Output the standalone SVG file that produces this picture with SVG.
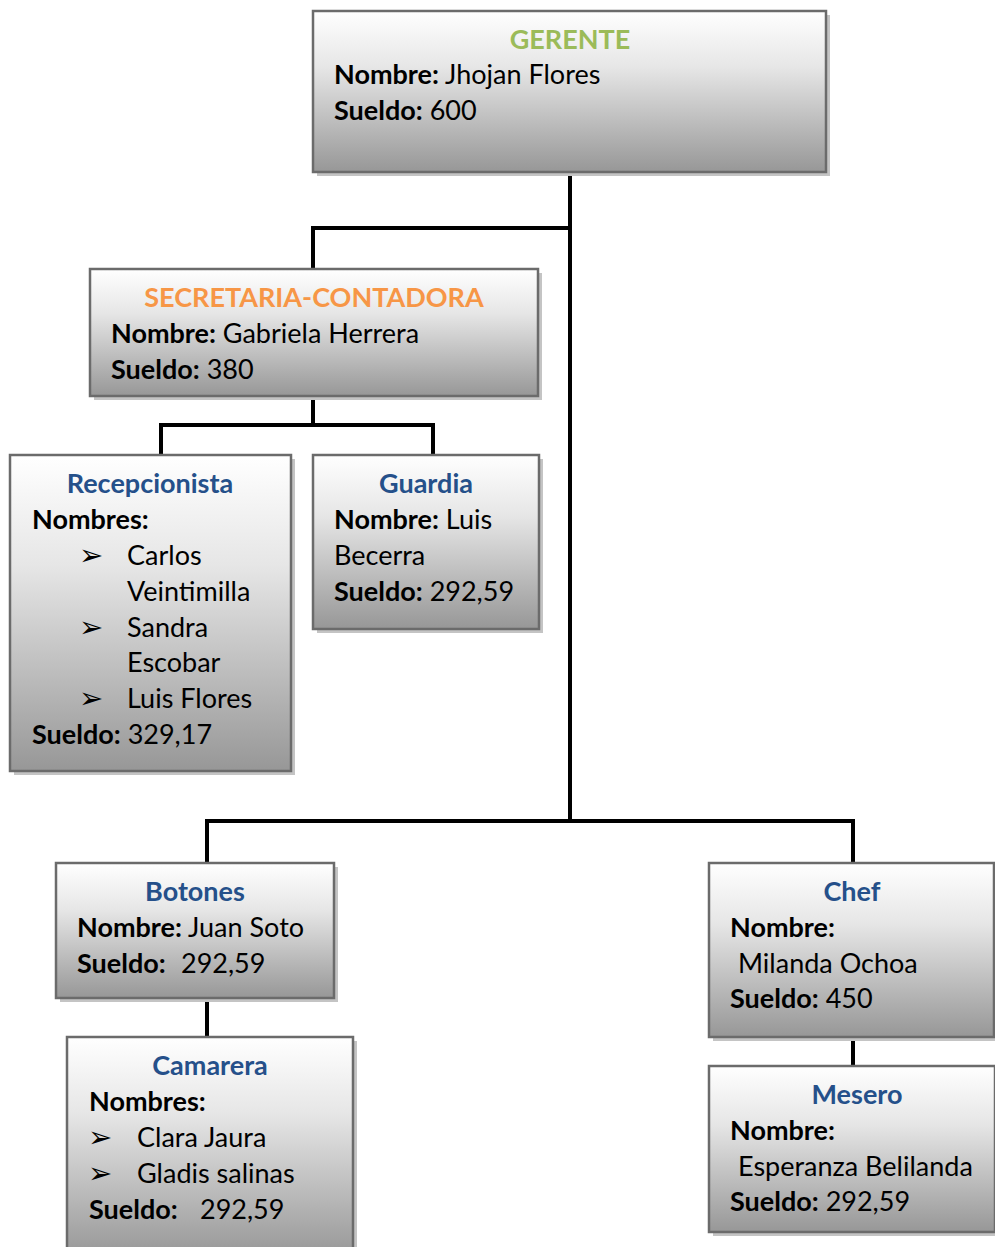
<svg xmlns="http://www.w3.org/2000/svg" width="995" height="1247" viewBox="0 0 995 1247">
<defs>
<linearGradient id="g" x1="0" y1="0" x2="0" y2="1">
<stop offset="0" stop-color="#ffffff"/>
<stop offset="0.35" stop-color="#e6e6e6"/>
<stop offset="1" stop-color="#979797"/>
</linearGradient>
<style>
.sh{fill:#c4c4c4;stroke:none}
.bx{fill:url(#g);stroke:#6b6b6b;stroke-width:2.5}
.c{stroke:#000;stroke-width:4;fill:none}
text{font-family:Lato,"Open Sans",sans-serif;font-size:27px;fill:#000}
.b{font-weight:bold}
.t{font-weight:bold;text-anchor:middle;fill:#25508a}
.bul{font-family:"DejaVu Sans",sans-serif;font-size:29px}
</style>
</defs>
<rect width="995" height="1247" fill="#fff"/>
<g id="connectors">
<path class="c" d="M570,172V820M313,228H570M313,226V269M313,396V425M161,425H433M161,423V455M433,423V455M207,821H853M207,819V863M853,819V863M207,998V1037M853,1037V1066"/>
</g>
<g id="gerente">
<rect class="sh" x="317" y="15" width="513" height="161"/>
<rect class="bx" x="313" y="11" width="513" height="161"/>
<text class="t" x="570" y="49" style="fill:#9bbb59">GERENTE</text>
<text x="334" y="84"><tspan class="b">Nombre:</tspan> Jhojan Flores</text>
<text x="334" y="120"><tspan class="b">Sueldo:</tspan> 600</text>
</g>
<g id="secretaria">
<rect class="sh" x="94" y="273" width="448" height="127"/>
<rect class="bx" x="90" y="269" width="448" height="127"/>
<text class="t" x="314" y="307" style="fill:#f79646">SECRETARIA-CONTADORA</text>
<text x="111" y="343"><tspan class="b">Nombre:</tspan> Gabriela Herrera</text>
<text x="111" y="379"><tspan class="b">Sueldo:</tspan> 380</text>
</g>
<g id="recepcionista">
<rect class="sh" x="14" y="459" width="281" height="316"/>
<rect class="bx" x="10" y="455" width="281" height="316"/>
<text class="t" x="150" y="493">Recepcionista</text>
<text class="b" x="32" y="529">Nombres:</text>
<text class="bul" x="79" y="565">➢</text>
<text x="127" y="565">Carlos</text>
<text x="127" y="601">Veintimilla</text>
<text class="bul" x="79" y="637">➢</text>
<text x="127" y="637">Sandra</text>
<text x="127" y="672">Escobar</text>
<text class="bul" x="79" y="708">➢</text>
<text x="127" y="708">Luis Flores</text>
<text x="32" y="744"><tspan class="b">Sueldo:</tspan> 329,17</text>
</g>
<g id="guardia">
<rect class="sh" x="317" y="459" width="226" height="174"/>
<rect class="bx" x="313" y="455" width="226" height="174"/>
<text class="t" x="426" y="493">Guardia</text>
<text x="334" y="529"><tspan class="b">Nombre:</tspan> Luis</text>
<text x="334" y="565">Becerra</text>
<text x="334" y="601"><tspan class="b">Sueldo:</tspan> 292,59</text>
</g>
<g id="botones">
<rect class="sh" x="60" y="867" width="278" height="135"/>
<rect class="bx" x="56" y="863" width="278" height="135"/>
<text class="t" x="195" y="901">Botones</text>
<text x="77" y="937"><tspan class="b">Nombre:</tspan> Juan Soto</text>
<text x="77" y="973"><tspan class="b">Sueldo:</tspan><tspan x="181">292,59</tspan></text>
</g>
<g id="chef">
<rect class="sh" x="713" y="867" width="285" height="174"/>
<rect class="bx" x="709" y="863" width="285" height="174"/>
<text class="t" x="852" y="901">Chef</text>
<text class="b" x="730" y="937">Nombre:</text>
<text x="738" y="973">Milanda Ochoa</text>
<text x="730" y="1008"><tspan class="b">Sueldo:</tspan> 450</text>
</g>
<g id="camarera">
<rect class="sh" x="71" y="1041" width="286" height="220"/>
<rect class="bx" x="67" y="1037" width="286" height="220"/>
<text class="t" x="210" y="1075">Camarera</text>
<text class="b" x="89" y="1111">Nombres:</text>
<text class="bul" x="88" y="1147">➢</text>
<text x="137" y="1147">Clara Jaura</text>
<text class="bul" x="88" y="1183">➢</text>
<text x="137" y="1183">Gladis salinas</text>
<text x="89" y="1219"><tspan class="b">Sueldo:</tspan><tspan x="200">292,59</tspan></text>
</g>
<g id="mesero">
<rect class="sh" x="713" y="1070" width="286" height="166"/>
<rect class="bx" x="709" y="1066" width="286" height="166"/>
<text class="t" x="857" y="1104">Mesero</text>
<text class="b" x="730" y="1140">Nombre:</text>
<text x="738" y="1176">Esperanza Belilanda</text>
<text x="730" y="1211"><tspan class="b">Sueldo:</tspan> 292,59</text>
</g>
</svg>
